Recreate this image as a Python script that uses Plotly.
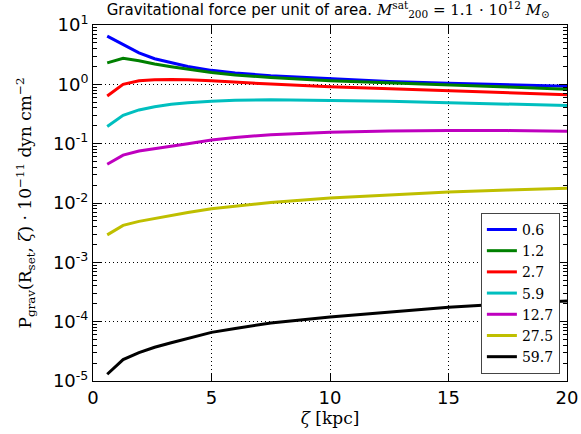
import plotly.graph_objects as go

# Height above the plane, zeta [kpc]
zeta = [0.6, 1.27, 1.94, 2.6, 3.3, 4.0, 5.0, 6.0, 7.5, 10.0, 12.5, 15.0, 17.5, 20.0]

# Series labels (set radius)
labels = ["0.6", "1.2", "2.7", "5.9", "12.7", "27.5", "59.7"]

# Gravitational pressure, units of 1e-11 dyn cm^-2
p_06 = [6.5, 4.7, 3.4, 2.7, 2.3, 2.0, 1.72, 1.55, 1.40, 1.24, 1.12, 1.04, 0.98, 0.93]
p_12 = [2.3, 2.75, 2.5, 2.2, 1.98, 1.8, 1.58, 1.44, 1.30, 1.15, 1.05, 0.97, 0.90, 0.83]
p_27 = [0.635, 1.0, 1.15, 1.2, 1.21, 1.2, 1.15, 1.09, 1.01, 0.91, 0.84, 0.78, 0.72, 0.67]
p_59 = [0.195, 0.30, 0.37, 0.42, 0.46, 0.49, 0.52, 0.54, 0.55, 0.54, 0.52, 0.49, 0.465, 0.44]
p_127 = [0.045, 0.064, 0.075, 0.083, 0.092, 0.10, 0.115, 0.127, 0.142, 0.155, 0.163, 0.167, 0.166, 0.162]
p_275 = [0.0029, 0.0042, 0.0049, 0.0055, 0.0062, 0.0069, 0.0080, 0.0089, 0.0102, 0.0121, 0.0138, 0.0153, 0.0166, 0.0177]
p_597 = [1.3e-5, 2.3e-5, 3.0e-5, 3.7e-5, 4.4e-5, 5.2e-5, 6.6e-5, 7.7e-5, 9.5e-5, 1.2e-4, 1.45e-4, 1.75e-4, 2.0e-4, 2.24e-4]

series = [p_06, p_12, p_27, p_59, p_127, p_275, p_597]
colors = ["#0000ff", "#008000", "#ff0000", "#00bfbf", "#bf00bf", "#bfbf00", "#000000"]

# Axis ticks
decades = [-5, -4, -3, -2, -1, 0, 1]
y_tick_vals = [10.0 ** d for d in decades]
y_tick_text = [f"10<sup>{d}</sup>" for d in decades]
y_minor_vals = [m * 10.0 ** d for d in decades[:-1] for m in range(2, 10)]
x_tick_vals = [0, 5, 10, 15, 20]

SERIF = "DejaVu Serif"
SANS = "DejaVu Sans"

fig = go.Figure()
for lab, vals, col in zip(labels, series, colors):
    fig.add_trace(go.Scatter(
        x=zeta, y=vals, mode="lines", name=lab,
        line=dict(color=col, width=3),
    ))

fig.update_layout(
    template="none",
    width=581, height=434,
    margin=dict(l=93, r=14, t=25, b=53, autoexpand=False),
    paper_bgcolor="white", plot_bgcolor="white",
    showlegend=True,
    title=dict(
        text=("Gravitational force per unit of area. "
              "<span style='font-family:DejaVu Serif'><i>M</i>"
              "<sup>sat</sup><sub>200</sub> = 1.1 · 10<sup>12</sup> <i>M</i><sub>⊙</sub></span>"),
        x=0.565, xanchor="center", y=0.99, yanchor="top",
        font=dict(family=SANS, size=15, color="black"),
    ),
    legend=dict(
        x=0.985, xanchor="right", y=0.02, yanchor="bottom",
        bgcolor="white", bordercolor="#444", borderwidth=1,
        font=dict(family=SERIF, size=14, color="black"),
        tracegroupgap=0, itemwidth=30,
    ),
    xaxis=dict(
        range=[0, 20], tickvals=x_tick_vals, ticks="inside", ticklen=8,
        tickcolor="black", mirror="ticks", showline=True, linecolor="black",
        linewidth=1, showgrid=True, gridcolor="black", griddash="1px,3px",
        gridwidth=1, zeroline=False, automargin=False,
        tickfont=dict(family=SANS, size=18, color="black"),
        title=dict(text="<i>ζ</i> [kpc]", font=dict(family=SERIF, size=17, color="black"),
                   standoff=4),
    ),
    yaxis=dict(
        type="log", range=[-5, 1], tickmode="array",
        tickvals=y_tick_vals, ticktext=y_tick_text,
        ticks="inside", ticklen=8, tickcolor="black", mirror="ticks",
        showline=True, linecolor="black", linewidth=1,
        showgrid=True, gridcolor="black", griddash="1px,3px", gridwidth=1,
        zeroline=False, automargin=False,
        minor=dict(ticks="inside", ticklen=4, tickcolor="black", tickmode="array",
                   tickvals=y_minor_vals, showgrid=False),
        tickfont=dict(family=SANS, size=18, color="black"),
        title=dict(text="P<sub>grav</sub>(R<sub>set</sub>, <i>ζ</i>) · 10<sup>−11</sup> dyn cm<sup>−2</sup>",
                   font=dict(family=SERIF, size=17, color="black"), standoff=16),
    ),
)

fig.write_html("out.html")
